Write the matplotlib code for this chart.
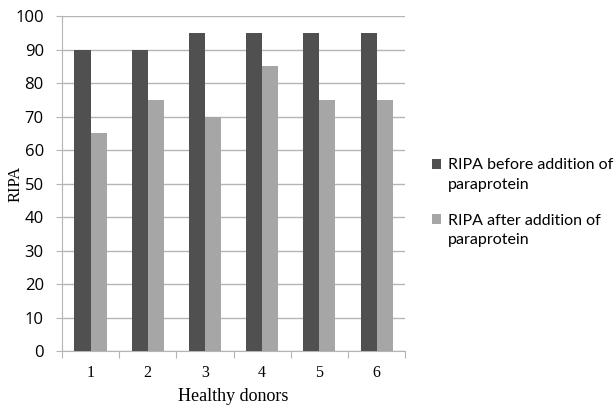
import numpy as np
import matplotlib.pyplot as plt
from matplotlib.patches import Patch

# data
donors = ["1", "2", "3", "4", "5", "6"]
ripa_before = [90, 90, 95, 95, 95, 95]
ripa_after = [65, 75, 70, 85, 75, 75]
series_names = [("RIPA before addition of", "paraprotein"),
                ("RIPA after addition of", "paraprotein")]
colors = ["#505050", "#a6a6a6"]

fig = plt.figure(figsize=(6.13, 4.07), dpi=100)
ax = fig.add_axes([0.101, 0.1376, 0.56, 0.823])

x = np.arange(len(donors))
w = 0.28
b1 = ax.bar(x - w / 2, ripa_before, w, color=colors[0], zorder=3)
b2 = ax.bar(x + w / 2, ripa_after, w, color=colors[1], zorder=3)

ax.set_xlim(-0.5, len(donors) - 0.5)
ax.set_ylim(0, 100)
ax.set_yticks(range(0, 101, 10))
ax.yaxis.grid(True, color="#b5b5b5", linewidth=1)
ax.set_axisbelow(True)

for s in ["top", "right"]:
    ax.spines[s].set_visible(False)
ax.spines["left"].set_color("#b5b5b5")
ax.spines["bottom"].set_color("#b5b5b5")

# tick marks on category boundaries, labels in the middle
ax.set_xticks(np.arange(-0.5, len(donors)), minor=False)
ax.set_xticklabels([])
ax.set_xticks(x, minor=True)
ax.set_xticklabels(donors, minor=True, family="Liberation Serif", fontsize=11.5)
ax.tick_params(axis="x", which="major", length=5, color="#b5b5b5")
ax.tick_params(axis="x", which="minor", length=0, pad=10)
ax.tick_params(axis="y", length=4, color="#b5b5b5", labelsize=12, pad=9)
for lab in ax.get_yticklabels():
    lab.set_family("Open Sans")

ax.set_ylabel("RIPA", family="Liberation Serif", fontsize=12)
ax.yaxis.set_label_coords(-0.112, 0.5)
ax.set_xlabel("Healthy donors", family="Liberation Serif", fontsize=13)
ax.xaxis.set_label_coords(0.5, -0.11)

# legend: square next to the first line of each two-line label (Excel style)
blank = Patch(facecolor="none", edgecolor="none")
tops = [0.575, 0.41]
legs = []
for bars, name, top in zip([b1, b2], series_names, tops):
    lg = ax.legend([bars, blank], list(name), loc="upper left",
                   bbox_to_anchor=(1.077, top), frameon=False,
                   prop={"family": "Lato", "size": 11.5}, handlelength=0.6,
                   handleheight=0.6, handletextpad=0.4, labelspacing=0.35,
                   borderaxespad=0, borderpad=0)
    legs.append(lg)
ax.add_artist(legs[0])

fig.savefig("out.png", dpi=100)
